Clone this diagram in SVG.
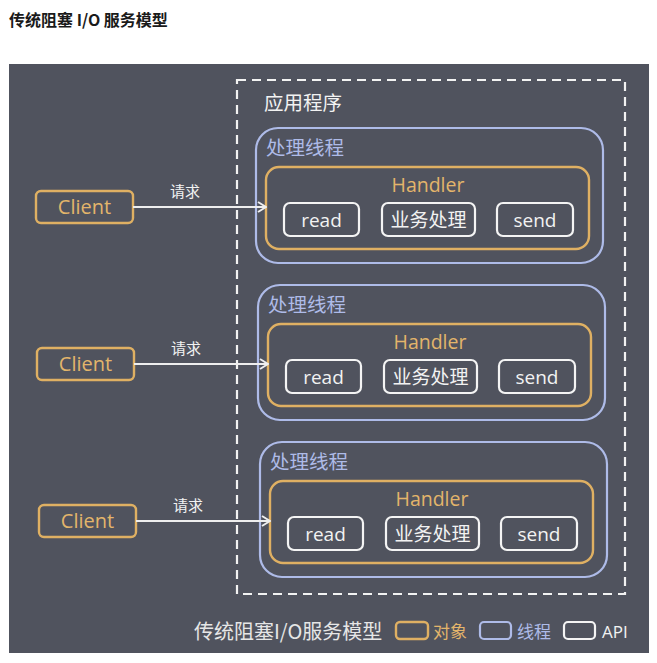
<svg xmlns="http://www.w3.org/2000/svg" width="657" height="663" viewBox="0 0 657 663">
<defs>
<style>
.bg{fill:#50535e}
.dash{fill:none;stroke:#f2f2f2;stroke-width:2.2;stroke-dasharray:9 6}
.thr{fill:none;stroke:#aebbe8;stroke-width:2.2}
.obj{fill:none;stroke:#dfb063;stroke-width:2.4}
.api{fill:none;stroke:#f4f4f4;stroke-width:2.2}
.t{font-family:"Open Sans","Noto Sans CJK SC",sans-serif}
.cjk{font-family:"Noto Sans CJK SC","Open Sans",sans-serif}
.w{fill:#f2f2f2}
.o{fill:#e3b56b}
.b{fill:#aebbe8}
.conn{stroke:#eeeeee;stroke-width:2;fill:none}
</style>
<marker id="arr" viewBox="0 0 10 12" refX="9" refY="6" markerWidth="10" markerHeight="12" markerUnits="userSpaceOnUse" orient="auto">
<path d="M1,1 L9,6 L1,11" fill="none" stroke="#eeeeee" stroke-width="2"/>
</marker>
</defs>
<rect width="657" height="663" fill="#ffffff"/>
<text class="cjk" x="9" y="26" font-size="16" font-weight="bold" fill="#1a1a1a">传统阻塞 I/O 服务模型</text>
<rect class="bg" x="9" y="64" width="640" height="589"/>
<g id="app">
<rect class="dash" x="237" y="80" width="388" height="514"/>
<text class="cjk w" x="264" y="110" font-size="19.5">应用程序</text>
</g>
<g id="thread1">
<rect class="thr" x="256" y="128" width="347" height="135" rx="22"/>
<text class="cjk b" x="266" y="155" font-size="19.5">处理线程</text>
</g>
<g id="handler1">
<rect class="obj" x="266" y="167" width="323" height="82" rx="13"/>
<text class="t o" x="428" y="192" font-size="19.5" text-anchor="middle">Handler</text>
</g>
<g id="read1"><rect class="api" x="284" y="203" width="75" height="33" rx="6"/><text class="t w" x="321.5" y="227" font-size="19" text-anchor="middle">read</text></g>
<g id="biz1"><rect class="api" x="382" y="203" width="93" height="33" rx="6"/><text class="cjk w" x="428.5" y="227" font-size="19" text-anchor="middle">业务处理</text></g>
<g id="send1"><rect class="api" x="497" y="203" width="76" height="33" rx="6"/><text class="t w" x="535" y="227" font-size="19" text-anchor="middle">send</text></g>
<g id="client1"><rect class="obj" x="36" y="191" width="97" height="32" rx="5"/><text class="t o" x="84.5" y="214" font-size="20" text-anchor="middle">Client</text></g>

<g id="thread2">
<rect class="thr" x="258" y="285" width="347" height="135" rx="22"/>
<text class="cjk b" x="268" y="312" font-size="19.5">处理线程</text>
</g>
<g id="handler2">
<rect class="obj" x="268" y="324" width="323" height="82" rx="13"/>
<text class="t o" x="430" y="349" font-size="19.5" text-anchor="middle">Handler</text>
</g>
<g id="read2"><rect class="api" x="286" y="360" width="75" height="33" rx="6"/><text class="t w" x="323.5" y="384" font-size="19" text-anchor="middle">read</text></g>
<g id="biz2"><rect class="api" x="384" y="360" width="93" height="33" rx="6"/><text class="cjk w" x="430.5" y="384" font-size="19" text-anchor="middle">业务处理</text></g>
<g id="send2"><rect class="api" x="499" y="360" width="76" height="33" rx="6"/><text class="t w" x="537" y="384" font-size="19" text-anchor="middle">send</text></g>
<g id="client2"><rect class="obj" x="37" y="348" width="97" height="32" rx="5"/><text class="t o" x="85.5" y="371" font-size="20" text-anchor="middle">Client</text></g>

<g id="thread3">
<rect class="thr" x="260" y="442" width="347" height="135" rx="22"/>
<text class="cjk b" x="270" y="469" font-size="19.5">处理线程</text>
</g>
<g id="handler3">
<rect class="obj" x="270" y="481" width="323" height="82" rx="13"/>
<text class="t o" x="432" y="506" font-size="19.5" text-anchor="middle">Handler</text>
</g>
<g id="read3"><rect class="api" x="288" y="517" width="75" height="33" rx="6"/><text class="t w" x="325.5" y="541" font-size="19" text-anchor="middle">read</text></g>
<g id="biz3"><rect class="api" x="386" y="517" width="93" height="33" rx="6"/><text class="cjk w" x="432.5" y="541" font-size="19" text-anchor="middle">业务处理</text></g>
<g id="send3"><rect class="api" x="501" y="517" width="76" height="33" rx="6"/><text class="t w" x="539" y="541" font-size="19" text-anchor="middle">send</text></g>
<g id="client3"><rect class="obj" x="39" y="505" width="97" height="32" rx="5"/><text class="t o" x="87.5" y="528" font-size="20" text-anchor="middle">Client</text></g>

<g id="connectors">
<line class="conn" x1="133" y1="207" x2="266" y2="207" marker-end="url(#arr)"/>
<text class="cjk w" x="185" y="197" font-size="15" text-anchor="middle">请求</text>
<line class="conn" x1="134" y1="364" x2="268" y2="364" marker-end="url(#arr)"/>
<text class="cjk w" x="186" y="354" font-size="15" text-anchor="middle">请求</text>
<line class="conn" x1="136" y1="521" x2="270" y2="521" marker-end="url(#arr)"/>
<text class="cjk w" x="188" y="511" font-size="15" text-anchor="middle">请求</text>
</g>

<g id="legend">
<text class="cjk" x="194" y="639" font-size="20" fill="#e6e6e6">传统阻塞I/O服务模型</text>
<rect class="obj" x="396" y="622" width="32" height="17" rx="4"/>
<text class="cjk o" x="433" y="638" font-size="17">对象</text>
<rect class="thr" x="480" y="622" width="31" height="17" rx="4"/>
<text class="cjk b" x="517" y="638" font-size="17">线程</text>
<rect class="api" x="564" y="622" width="31" height="17" rx="4"/>
<text class="t w" x="602" y="638" font-size="17">API</text>
</g>
</svg>
